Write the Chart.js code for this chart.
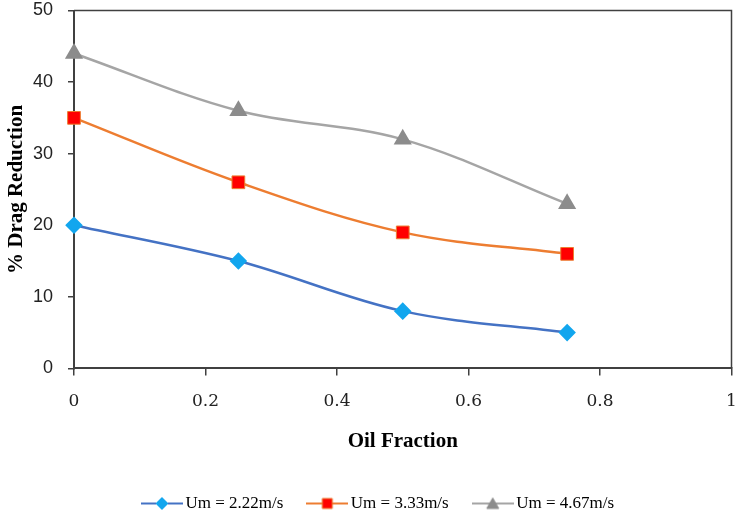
<!DOCTYPE html>
<html>
<head>
<meta charset="utf-8">
<script src="https://cdn.jsdelivr.net/npm/chart.js@4.4.0/dist/chart.umd.min.js"></script>
<style>
  html, body { margin: 0; padding: 0; background: #fff; }
  #wrap { width: 742px; height: 518px; }
</style>
</head>
<body>
<div id="wrap"><canvas id="chart" width="742" height="518"></canvas></div>
<script>
const oilFraction = [0, 0.25, 0.5, 0.75];
const um222 = [20, 15, 8, 5];
const um333 = [35, 26, 19, 16];
const um467 = [44, 36, 32, 23];
const seriesLabels = ['Um = 2.22m/s', 'Um = 3.33m/s', 'Um = 4.67m/s'];
const xTicks = [0, 0.2, 0.4, 0.6, 0.8, 1];
const yTicks = [0, 10, 20, 30, 40, 50];

const axisColor = '#404040';

function pts(ys) {
  return oilFraction.map((x, i) => ({ x: x, y: ys[i] }));
}

// little line + marker picture for the legend, like Excel
function legendIcon(lineColor, fill, stroke, shape) {
  const c = document.createElement('canvas');
  c.width = 42; c.height = 14;
  const g = c.getContext('2d');
  g.strokeStyle = lineColor;
  g.lineWidth = 2;
  g.beginPath(); g.moveTo(0, 7); g.lineTo(42, 7); g.stroke();
  g.fillStyle = fill;
  g.strokeStyle = stroke;
  g.lineWidth = 1;
  g.beginPath();
  if (shape === 'diamond') {
    g.moveTo(21, 1); g.lineTo(27, 7); g.lineTo(21, 13); g.lineTo(15, 7);
  } else if (shape === 'square') {
    g.rect(16, 2, 10, 10);
  } else {
    g.moveTo(21, 1.5); g.lineTo(27, 12); g.lineTo(15, 12);
  }
  g.closePath(); g.fill(); g.stroke();
  return c;
}

const icons = [
  legendIcon('#4472C4', '#12A6EE', '#12A6EE', 'diamond'),
  legendIcon('#ED7D31', '#FF0000', '#ED7D31', 'square'),
  legendIcon('#A5A5A5', '#8C8C8C', '#8C8C8C', 'triangle')
];

const framePlugin = {
  id: 'frame',
  afterDraw(chart) {
    const a = chart.chartArea;
    const ctx = chart.ctx;
    ctx.save();
    ctx.strokeStyle = axisColor;
    ctx.lineWidth = 1.5;
    ctx.beginPath();
    ctx.moveTo(a.left, a.top); ctx.lineTo(a.right, a.top); ctx.lineTo(a.right, a.bottom);
    ctx.stroke();
    ctx.restore();
  }
};

new Chart(document.getElementById('chart'), {
  type: 'line',
  data: {
    datasets: [
      {
        label: seriesLabels[0], data: pts(um222),
        borderColor: '#4472C4', borderWidth: 2.5,
        pointStyle: 'rectRot', pointRadius: 7, pointHoverRadius: 7,
        pointBackgroundColor: '#12A6EE', pointBorderColor: '#12A6EE',
        tension: 0.35, clip: false
      },
      {
        label: seriesLabels[1], data: pts(um333),
        borderColor: '#ED7D31', borderWidth: 2.5,
        pointStyle: 'rect', pointRadius: 9, pointHoverRadius: 9,
        pointBackgroundColor: '#FF0000', pointBorderColor: '#ED7D31', pointBorderWidth: 1,
        tension: 0.35, clip: false
      },
      {
        label: seriesLabels[2], data: pts(um467),
        borderColor: '#A5A5A5', borderWidth: 2.5,
        pointStyle: 'triangle', pointRadius: 8, pointHoverRadius: 8,
        pointBackgroundColor: '#8C8C8C', pointBorderColor: '#8C8C8C',
        tension: 0.35, clip: false
      }
    ]
  },
  options: {
    responsive: false,
    animation: false,
    layout: { padding: { left: 24, right: 5, top: 10, bottom: -4 } },
    plugins: {
      tooltip: { enabled: false },
      legend: {
        position: 'bottom',
        labels: {
          usePointStyle: true,
          pointStyleWidth: 30,
          padding: 29,
          color: '#000',
          font: { family: 'Liberation Serif', size: 17 },
          generateLabels(chart) {
            return chart.data.datasets.map((ds, i) => ({
              text: ds.label,
              pointStyle: icons[i],
              fillStyle: 'transparent',
              strokeStyle: 'transparent',
              lineWidth: 0,
              datasetIndex: i,
              hidden: false
            }));
          }
        }
      }
    },
    scales: {
      x: {
        type: 'linear',
        min: 0, max: 1,
        afterBuildTicks(scale) { scale.ticks = xTicks.map(v => ({ value: v })); },
        afterFit(scale) { scale.paddingLeft = 0; scale.paddingRight = 0; },
        grid: { drawOnChartArea: false, tickLength: 7, color: axisColor, lineWidth: 1.5 },
        border: { color: axisColor, width: 2 },
        ticks: {
          color: '#222', padding: 16,
          font: { family: 'DejaVu Serif', size: 17 },
          callback: v => String(v)
        },
        title: {
          display: true, text: 'Oil Fraction', color: '#000',
          font: { family: 'Liberation Serif', size: 21, weight: 'bold' },
          padding: { top: 1, bottom: 12 }
        }
      },
      y: {
        min: 0, max: 50,
        afterBuildTicks(scale) { scale.ticks = yTicks.map(v => ({ value: v })); },
        afterFit(scale) { scale.width = 50; scale.paddingTop = 0; scale.paddingBottom = 0; },
        grid: { drawOnChartArea: false, tickLength: 6, color: axisColor, lineWidth: 1.5 },
        border: { color: axisColor, width: 2 },
        ticks: {
          color: '#222', padding: 15,
          font: { family: 'Liberation Sans', size: 18 }
        },
        title: {
          display: true, text: '% Drag Reduction', color: '#000',
          font: { family: 'Liberation Serif', size: 21, weight: 'bold' },
          padding: { top: -20, bottom: 0 }
        }
      }
    }
  },
  plugins: [framePlugin]
});
</script>
</body>
</html>
